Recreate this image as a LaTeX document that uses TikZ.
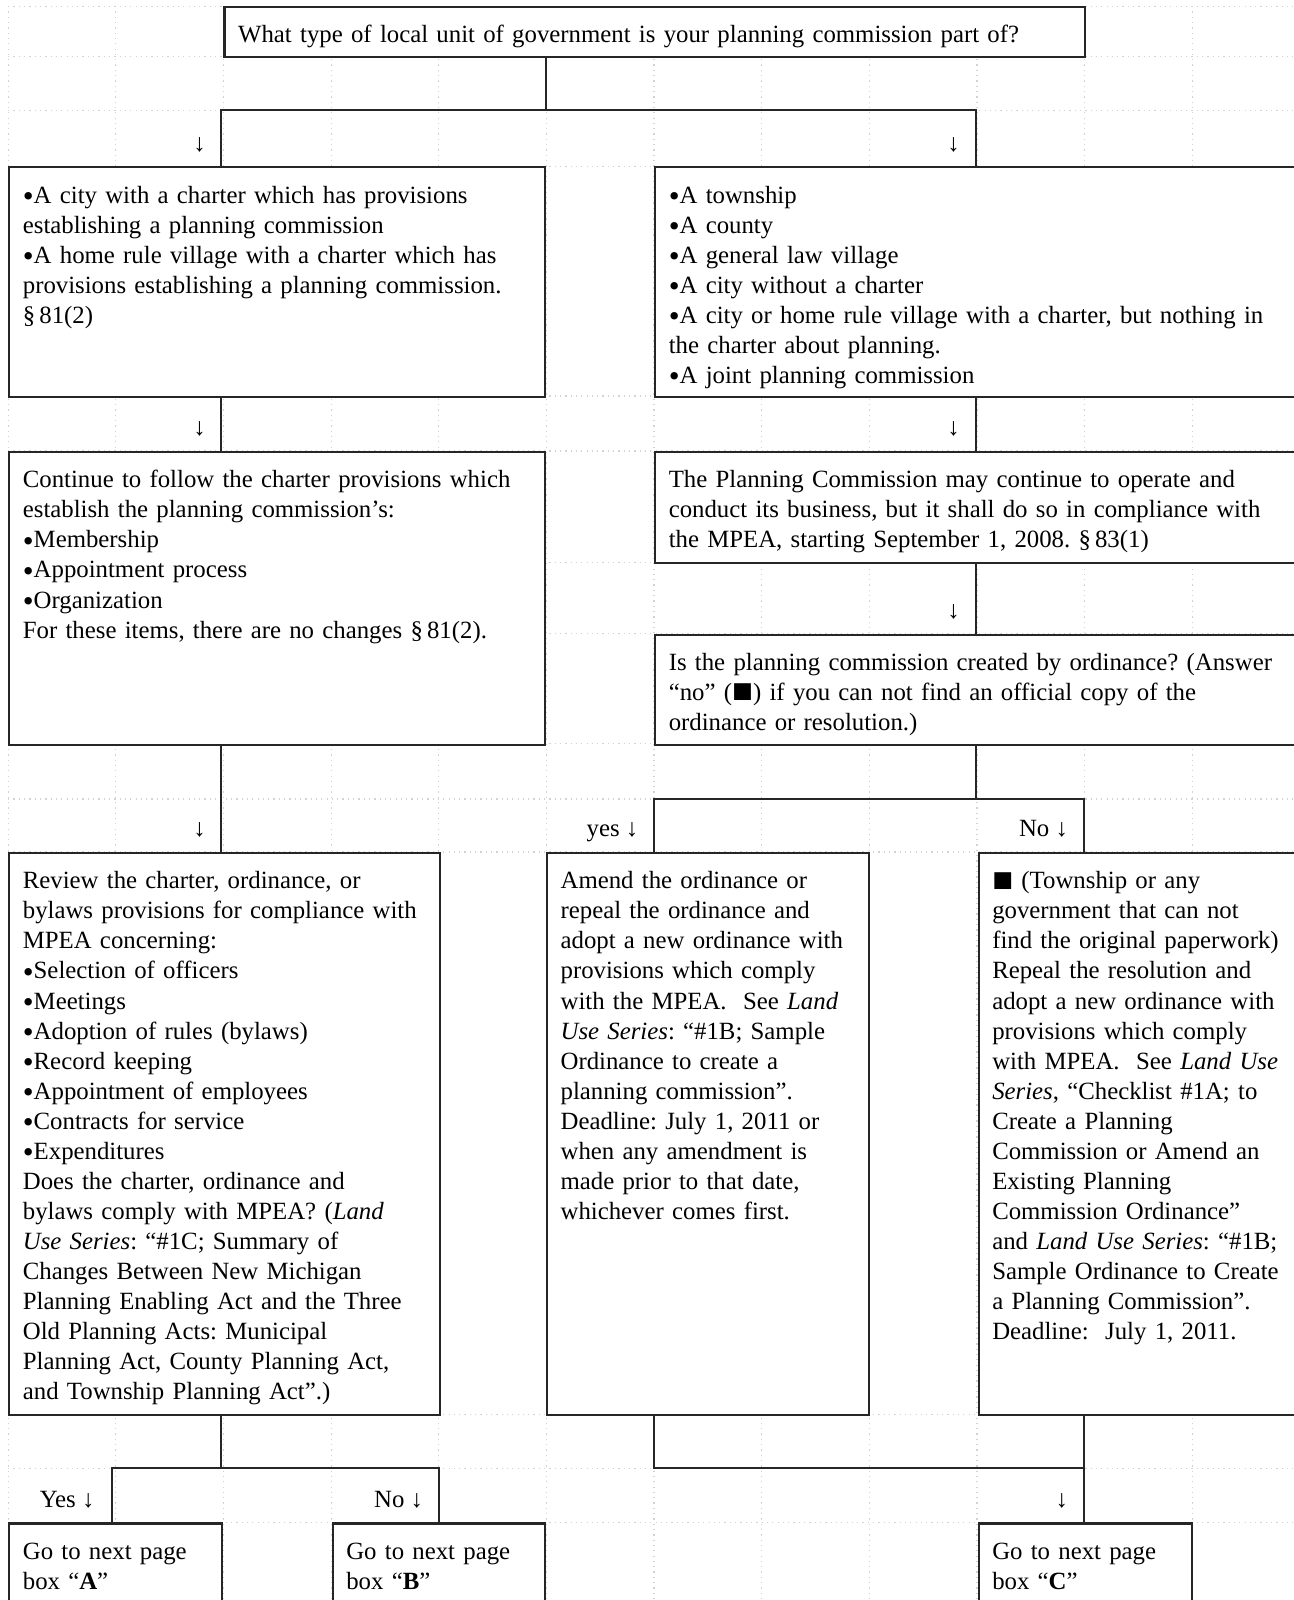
\documentclass[tikz,border=0pt]{standalone}
\usepackage{fontspec}
\setmainfont{Liberation Serif}
\frenchspacing
\newcommand{\bul}{\raisebox{-0.28ex}{\scalebox{1.25}{•}}}
\newcommand{\sq}{\raisebox{-0.2ex}{\scalebox{1.4}{■}}}

\tikzset{
  cell/.style={draw=black!85, line width=1pt, fill=white, anchor=north west, inner sep=0pt},
  txt/.style={anchor=base west, inner sep=0pt, align=left, font=\fontsize{12.15}{14.73}\selectfont},
  intext/.style={shift={(7pt,-18pt)}},
  conn/.style={draw=black!85, line width=1pt, line cap=rect},
  arrlbl/.style={anchor=base east, inner sep=0pt, font=\fontsize{12.15}{14.73}\selectfont},
  gridl/.style={draw=gray!35, dotted, line width=0.6pt}
}

\begin{document}
\begin{tikzpicture}[x=0.5pt,y=-0.5pt]
\useasboundingbox (0,0) rectangle (1268,1568);
\clip (0,0) rectangle (1268,1568);

% faint table grid
\foreach \cx in {0,...,12}
  \draw[gridl] (8+105.5*\cx,6) -- (8+105.5*\cx,1568);
\foreach \ry in {6,55,108,163,388,442,551,621,729,783,835,1386,1439,1492}
  \draw[gridl] (8,\ry) -- (1268,\ry);

% boxes
\node[cell, minimum width=421.5pt, minimum height=24.5pt] (top) at (219,6) {};
\node[txt, text width=415pt] (top-t) at ([intext]top.north west)
  {What type of local unit of government is your planning commission part of?};

\node[cell, minimum width=262.5pt, minimum height=112.5pt] (q1) at (8,163) {};
\node[txt, text width=252pt] (q1-t) at ([intext]q1.north west)
  {\bul A city with a charter which has provisions\\
   establishing a planning commission\\
   \bul A home rule village with a charter which has\\
   provisions establishing a planning commission.\\
   §\,81(2)};

\node[cell, minimum width=320pt, minimum height=112.5pt] (r1) at (641,163) {};
\node[txt, text width=310pt] (r1-t) at ([intext]r1.north west)
  {\bul A township\\
   \bul A county\\
   \bul A general law village\\
   \bul A city without a charter\\
   \bul A city or home rule village with a charter, but nothing in\\
   the charter about planning.\\
   \bul A joint planning commission};

\node[cell, minimum width=262.5pt, minimum height=143.5pt] (q2) at (8,442) {};
\node[txt, text width=252pt] (q2-t) at ([intext]q2.north west)
  {Continue to follow the charter provisions which\\
   establish the planning commission’s:\\
   \bul Membership\\
   \bul Appointment process\\
   \bul Organization\\
   For these items, there are no changes §\,81(2).};

\node[cell, minimum width=320pt, minimum height=54.5pt] (r2) at (641,442) {};
\node[txt, text width=310pt] (r2-t) at ([intext]r2.north west)
  {The Planning Commission may continue to operate and\\
   conduct its business, but it shall do so in compliance with\\
   the MPEA, starting September 1, 2008. §\,83(1)};

\node[cell, minimum width=320pt, minimum height=54pt] (r3) at (641,621) {};
\node[txt, text width=310pt] (r3-t) at ([intext]r3.north west)
  {Is the planning commission created by ordinance? (Answer\\
   “no” (\sq) if you can not find an official copy of the\\
   ordinance or resolution.)};

\node[cell, minimum width=211pt, minimum height=275.5pt] (q3) at (8,835) {};
\node[txt, text width=202pt] (q3-t) at ([intext]q3.north west)
  {Review the charter, ordinance, or\\
   bylaws provisions for compliance with\\
   MPEA concerning:\\
   \bul Selection of officers\\
   \bul Meetings\\
   \bul Adoption of rules (bylaws)\\
   \bul Record keeping\\
   \bul Appointment of employees\\
   \bul Contracts for service\\
   \bul Expenditures\\
   Does the charter, ordinance and\\
   bylaws comply with MPEA? (\textit{Land}\\
   \textit{Use Series}: “\#1C; Summary of\\
   Changes Between New Michigan\\
   Planning Enabling Act and the Three\\
   Old Planning Acts: Municipal\\
   Planning Act, County Planning Act,\\
   and Township Planning Act”.)};

\node[cell, minimum width=158pt, minimum height=275.5pt] (m3) at (535,835) {};
\node[txt, text width=150pt] (m3-t) at ([intext]m3.north west)
  {Amend the ordinance or\\
   repeal the ordinance and\\
   adopt a new ordinance with\\
   provisions which comply\\
   with the MPEA.\ \ See \textit{Land}\\
   \textit{Use Series}: “\#1B; Sample\\
   Ordinance to create a\\
   planning commission”.\\
   Deadline: July 1, 2011 or\\
   when any amendment is\\
   made prior to that date,\\
   whichever comes first.};

\node[cell, minimum width=161.5pt, minimum height=275.5pt] (n3) at (958,835) {};
\node[txt, text width=152pt] (n3-t) at ([intext]n3.north west)
  {\sq\ (Township or any\\
   government that can not\\
   find the original paperwork)\\
   Repeal the resolution and\\
   adopt a new ordinance with\\
   provisions which comply\\
   with MPEA.\ \ See \textit{Land Use}\\
   \textit{Series}, “Checklist \#1A; to\\
   Create a Planning\\
   Commission or Amend an\\
   Existing Planning\\
   Commission Ordinance”\\
   and \textit{Land Use Series}: “\#1B;\\
   Sample Ordinance to Create\\
   a Planning Commission”.\\
   Deadline:\ \ July 1, 2011.};

\node[cell, minimum width=104.5pt, minimum height=45pt] (bA) at (8,1492) {};
\node[txt, text width=98pt] (bA-t) at ([intext]bA.north west)
  {Go to next page\\ box “\textbf{A}”};
\node[cell, minimum width=104pt, minimum height=45pt] (bB) at (325,1492) {};
\node[txt, text width=98pt] (bB-t) at ([intext]bB.north west)
  {Go to next page\\ box “\textbf{B}”};
\node[cell, minimum width=104.5pt, minimum height=45pt] (bC) at (958,1492) {};
\node[txt, text width=98pt] (bC-t) at ([intext]bC.north west)
  {Go to next page\\ box “\textbf{C}”};

% connectors
\coordinate (j1) at (535,108);
\coordinate (j1l) at (217,108);
\coordinate (j1r) at (956,108);
\draw[conn] (top.south -| j1) -- (j1);
\draw[conn] (q1.north -| j1l) -- (j1l) -- (j1r) -- (r1.north -| j1r);
\draw[conn] (q1.south -| j1l) -- (q2.north -| j1l);
\draw[conn] (q2.south -| j1l) -- (q3.north -| j1l);
\draw[conn] (r1.south -| j1r) -- (r2.north -| j1r);
\draw[conn] (r2.south -| j1r) -- (r3.north -| j1r);

\coordinate (j4l) at (641,783);
\coordinate (j4r) at (1062,783);
\draw[conn] (r3.south -| j1r) -- (j1r |- j4l);
\draw[conn] (m3.north -| j4l) -- (j4l) -- (j4r) -- (n3.north -| j4r);

\coordinate (j5l) at (110,1439);
\coordinate (j5r) at (430,1439);
\draw[conn] (q3.south -| j1l) -- (j1l |- j5l);
\draw[conn] (bA.north -| j5l) -- (j5l) -- (j5r) -- (bB.north -| j5r);

\coordinate (j6l) at (641,1439);
\draw[conn] (m3.south -| j6l) -- (j6l) -- (j4r |- j6l);
\draw[conn] (n3.south -| j4r) -- (bC.north -| j4r);

% arrow marks
\node[arrlbl] (a1) at (202,148) {\textbf{↓}};
\node[arrlbl] (a2) at (941,148) {\textbf{↓}};
\node[arrlbl] (a3) at (202,427) {\textbf{↓}};
\node[arrlbl] (a4) at (941,427) {\textbf{↓}};
\node[arrlbl] (a5) at (941,606) {\textbf{↓}};
\node[arrlbl] (a6) at (202,820) {\textbf{↓}};
\node[arrlbl] (a7) at (626,820) {yes \textbf{↓}};
\node[arrlbl] (a8) at (1047,820) {No \textbf{↓}};
\node[arrlbl] (a9) at (93,1477) {Yes \textbf{↓}};
\node[arrlbl] (a10) at (415,1477) {No \textbf{↓}};
\node[arrlbl] (a11) at (1047,1477) {\textbf{↓}};
\end{tikzpicture}
\end{document}
